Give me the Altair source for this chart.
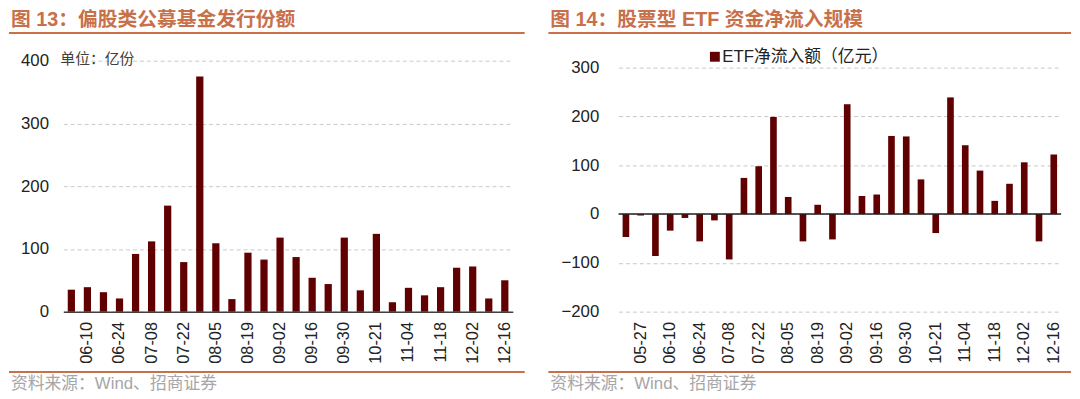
import altair as alt
import pandas as pd

# ---------------- data ----------------
left_dates = ["06-03", "06-10", "06-17", "06-24", "07-01", "07-08", "07-15", "07-22",
              "07-29", "08-05", "08-12", "08-19", "08-26", "09-02", "09-09", "09-16",
              "09-23", "09-30", "10-14", "10-21", "10-28", "11-04", "11-11", "11-18",
              "11-25", "12-02", "12-09", "12-16"]
left_values = [35, 39, 31, 21, 92, 112, 169, 79, 375, 109, 20, 94, 83, 118,
               87, 54, 44, 118, 34, 124, 15, 38, 26, 39, 70, 72, 21, 50]
left_ticks = left_dates[1::2]
left_yticks = [0, 100, 200, 300, 400]

right_dates = ["05-20", "05-27", "06-03", "06-10", "06-17", "06-24", "07-01", "07-08",
               "07-15", "07-22", "07-29", "08-05", "08-12", "08-19", "08-26", "09-02",
               "09-09", "09-16", "09-23", "09-30", "10-14", "10-21", "10-28", "11-04",
               "11-11", "11-18", "11-25", "12-02", "12-09", "12-16"]
right_values = [-47, -3, -86, -34, -8, -56, -13, -93, 74, 98, 199, 35, -56, 19, -52,
                225, 37, 40, 160, 159, 71, -39, 239, 141, 89, 27, 62, 106, -56, 122]
right_ticks = right_dates[1::2]
right_yticks = [-200, -100, 0, 100, 200, 300]

left_title = "图 13：偏股类公募基金发行份额"
right_title = "图 14：股票型 ETF 资金净流入规模"
unit_text = "单位：亿份"
legend_label = "ETF净流入额（亿元）"
source_text = "资料来源：Wind、招商证券"

# ---------------- style ----------------
FONT = "Liberation Sans, Arial, Noto Sans CJK SC, sans-serif"
BAR = "#600000"
ACCENT = "#C8704A"
GRID = "#C8C8C8"
LABEL = "#222222"
SOURCE = "#A6A6A6"

one = alt.Data(values=[{"k": 0}])


def decorations(title, x_left, x_right):
    t = alt.Chart(one).mark_text(
        align="left", baseline="top", fontSize=20, fontWeight="bold",
        font=FONT, color=ACCENT
    ).encode(x=alt.value(x_left + 2), y=alt.value(-51), text=alt.value(title))
    top_rule = alt.Chart(one).mark_rule(color=ACCENT, strokeWidth=2).encode(
        x=alt.value(x_left), x2=alt.value(x_right), y=alt.value(-28))
    bottom_rule = alt.Chart(one).mark_rule(color=ACCENT, strokeWidth=2).encode(
        x=alt.value(x_left), x2=alt.value(x_right), y=alt.value(315))
    src = alt.Chart(one).mark_text(
        align="left", baseline="middle", fontSize=17, font=FONT, color=SOURCE
    ).encode(x=alt.value(x_left + 2), y=alt.value(327), text=alt.value(source_text))
    return [t, top_rule, bottom_rule, src]


def x_axis(ticks, domain):
    return alt.Axis(values=ticks, labelAngle=270, title=None, domain=domain,
                    domainColor="#404040", domainWidth=1.5, ticks=False,
                    labelPadding=10, labelFontSize=16.5, labelColor=LABEL,
                    labelFont=FONT, grid=False)


def y_axis(ticks, pad):
    return alt.Axis(values=ticks, title=None, domain=False, ticks=False,
                    grid=True, gridDash=[4, 3], gridColor=GRID,
                    labelPadding=pad, labelFontSize=17, labelColor=LABEL,
                    labelFont=FONT)


# ---------------- left panel ----------------
left_df = pd.DataFrame({"date": left_dates, "value": left_values})
LW, H = 455, 254

left_bars = alt.Chart(left_df).mark_bar(color=BAR).encode(
    x=alt.X("date:N", sort=left_dates,
            scale=alt.Scale(paddingInner=0.55, paddingOuter=0.275),
            axis=x_axis(left_ticks, True)),
    y=alt.Y("value:Q", scale=alt.Scale(domain=[0, 400], nice=False),
            axis=y_axis(left_yticks, 15)),
)

unit = alt.Chart(one).mark_text(
    align="left", baseline="middle", fontSize=15, font=FONT, color="#404040"
).encode(x=alt.value(-3), y=alt.value(-2), text=alt.value(unit_text))

left = alt.layer(left_bars, unit, *decorations(left_title, -55, 467)).properties(
    width=LW, height=H)

# ---------------- right panel ----------------
right_df = pd.DataFrame({"date": right_dates, "value": right_values})
RW = 448
r_max = -200 + 500 * H / 247.0

right_bars = alt.Chart(right_df).mark_bar(color=BAR).encode(
    x=alt.X("date:N", sort=right_dates,
            scale=alt.Scale(paddingInner=0.55, paddingOuter=0.275),
            axis=x_axis(right_ticks, False)),
    y=alt.Y("value:Q", scale=alt.Scale(domain=[-200, r_max], nice=False),
            axis=y_axis(right_yticks, 20)),
)

zero = alt.Chart(one).mark_rule(color="#202020", strokeWidth=1.5).encode(
    y=alt.datum(0))

legend_sym = alt.Chart(one).mark_square(color=BAR, size=100, opacity=1).encode(
    x=alt.value(97.5), y=alt.value(-4))
legend_txt = alt.Chart(one).mark_text(
    align="left", baseline="middle", fontSize=17, font=FONT, color=LABEL
).encode(x=alt.value(105), y=alt.value(-4), text=alt.value(legend_label))

right = alt.layer(right_bars, zero, legend_sym, legend_txt,
                  *decorations(right_title, -71, 458)).properties(width=RW, height=H)

chart = alt.hconcat(left, right, spacing=22).properties(
    padding=0, background="white"
).configure_view(stroke=None)

chart.save("out.html", embed_options={"renderer": "svg", "actions": False})
